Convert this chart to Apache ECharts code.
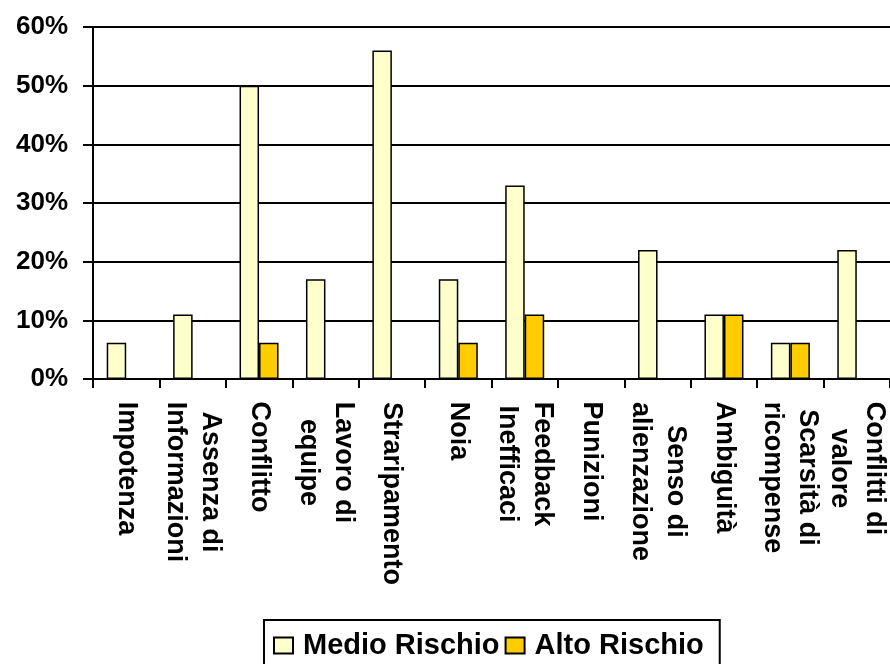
<!DOCTYPE html>
<html>
<head>
<meta charset="utf-8">
<script src="https://cdn.jsdelivr.net/npm/echarts@6/dist/echarts.min.js"></script>
<style>html,body{margin:0;padding:0;background:#fff;}#c{width:890px;height:664px;}</style>
</head>
<body>
<div id="c"></div>
<script>
const categories = ["Impotenza", "Assenza di\nInformazioni", "Conflitto", "Lavoro di\nequipe", "Straripamento", "Noia", "Feedback\nInefficaci", "Punizioni", "Senso di\nalienzazione", "Ambiguità", "Scarsità di\nricompense", "Conflitti di\nvalore"];
const medioRischio = [6.2, 11, 50, 17, 56, 17, 33, 0, 22, 11, 6.2, 22];
const altoRischio = [0, 0, 6.2, 0, 0, 6.2, 11, 0, 0, 11, 6.2, 0];
const yTicks = [0, 10, 20, 30, 40, 50, 60];

const FONT = '"Liberation Sans", Arial, sans-serif';
const XFS = 27;
// measure widths so multi-line labels can be centred line by line
const ctx = document.createElement('canvas').getContext('2d');
ctx.font = 'bold ' + XFS + 'px "Liberation Sans"';
const rich = {};
categories.forEach((c, i) => {
  const w = Math.max(...c.split('\n').map(l => ctx.measureText(l).width));
  rich['c' + i] = {width: Math.ceil(w) + 1, align: 'center', fontFamily: FONT, fontWeight: 'bold', fontSize: XFS, color: '#000', lineHeight: 35};
});

const chart = echarts.init(document.getElementById('c'), null, {renderer: 'canvas'});
chart.setOption({
  animation: false,
  backgroundColor: '#fff',
  grid: {left: 93, right: 0, top: 27, bottom: 285, containLabel: false},
  legend: {
    left: 264, top: 620,
    data: ['Medio Rischio', 'Alto Rischio'],
    itemWidth: 19, itemHeight: 16, itemGap: 5,
    padding: [11, 16, 12, 9],
    borderColor: '#000', borderWidth: 2,
    icon: 'rect',
    textStyle: {fontFamily: FONT, fontWeight: 'bold', fontSize: 29, color: '#000', padding: [0, 0, 0, 5]}
  },
  xAxis: {
    type: 'category',
    data: categories,
    axisLine: {lineStyle: {color: '#000', width: 2}},
    axisTick: {show: true, length: 9, lineStyle: {color: '#000', width: 2}},
    axisLabel: {
      interval: 0, rotate: -90, margin: 22,
      formatter: (v, i) => v.split('\n').map(l => '{c' + i + '|' + l + '}').join('\n'),
      rich: rich
    }
  },
  yAxis: {
    type: 'value', min: yTicks[0], max: yTicks[yTicks.length - 1], interval: 10,
    axisLine: {show: true, lineStyle: {color: '#000', width: 2}},
    axisTick: {show: true, length: 10, lineStyle: {color: '#000', width: 2}},
    splitLine: {lineStyle: {color: '#000', width: 2}},
    axisLabel: {formatter: '{value}%', margin: 25, fontFamily: FONT, fontWeight: 'bold', fontSize: 26, color: '#000'}
  },
  series: [
    {name: 'Medio Rischio', type: 'bar', data: medioRischio, barWidth: 19.5, barGap: '0%',
     itemStyle: {color: '#FFFFCC', borderColor: '#000', borderWidth: 1.5}},
    {name: 'Alto Rischio', type: 'bar', data: altoRischio, barWidth: 19.5, barGap: '0%',
     itemStyle: {color: '#FFCC00', borderColor: '#000', borderWidth: 1.5}}
  ]
});
</script>
</body>
</html>
